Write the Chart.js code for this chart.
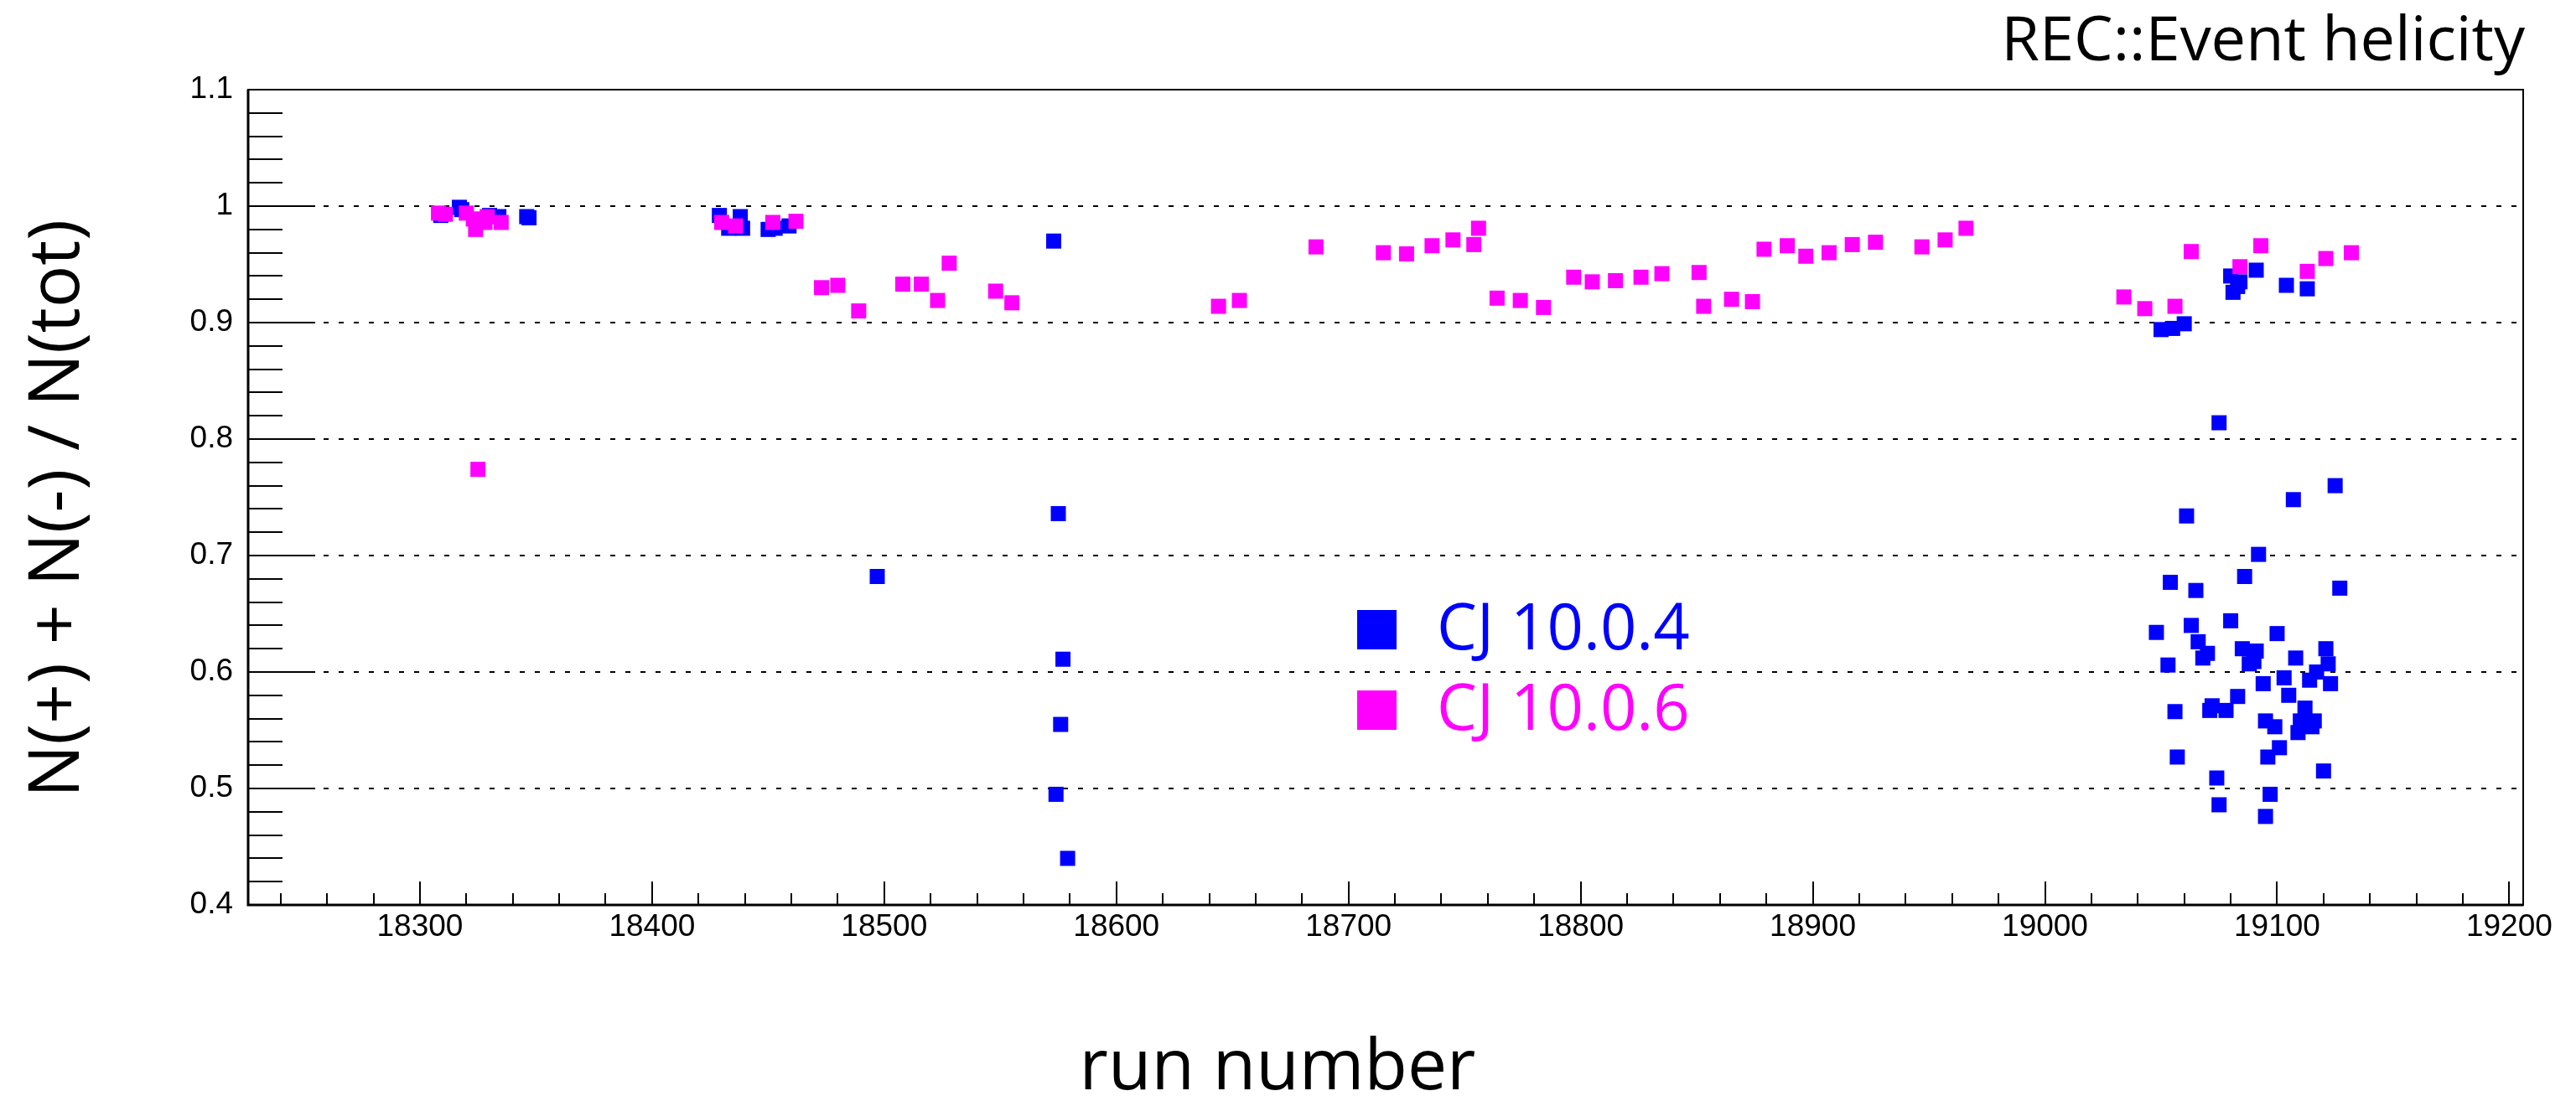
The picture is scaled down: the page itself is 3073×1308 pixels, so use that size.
<!DOCTYPE html>
<html>
<head>
<meta charset="utf-8">
<script src="https://cdn.jsdelivr.net/npm/chart.js@4/dist/chart.umd.min.js"></script>
<style>
  html, body { margin: 0; padding: 0; background: #ffffff; }
  #wrap { width: 3073px; height: 1308px; }
  canvas { display: block; }
</style>
</head>
<body>
<div id="wrap"><canvas id="c" width="3073" height="1308"></canvas></div>
<script>
// Helicity fraction per run: N(+) + N(-) / N(tot), two cooking versions.
const runs104 = [
  18309, 18317, 18318, 18330, 18334, 18346, 18347,
  18429, 18433, 18438, 18439, 18450, 18453, 18459,
  18497, 18573, 18575, 18577, 18576, 18574, 18579,
  19050, 19055, 19060, 19075, 19080, 19081, 19083, 19084, 19091, 19104, 19113,
  19125, 19107, 19061, 19092, 19086, 19054, 19065, 19127,
  19080, 19063, 19048, 19100, 19066, 19070, 19068, 19085, 19091, 19088,
  19090, 19108, 19121, 19122, 19053, 19117, 19103, 19094, 19114, 19123,
  19105, 19083, 19112, 19072, 19071, 19078, 19056, 19095, 19099, 19110,
  19116, 19115, 19109, 19101, 19096, 19057, 19120, 19074, 19097, 19075, 19095
];
const vals104 = [
  0.992, 0.999, 0.997, 0.992, 0.991, 0.991, 0.990,
  0.992, 0.981, 0.991, 0.981, 0.980, 0.981, 0.983,
  0.682, 0.970, 0.736, 0.611, 0.555, 0.495, 0.440,
  0.894, 0.895, 0.899, 0.814, 0.940, 0.926, 0.931, 0.935, 0.945, 0.932, 0.929,
  0.760, 0.748, 0.734, 0.701, 0.682, 0.677, 0.670, 0.672,
  0.644, 0.640, 0.634, 0.633, 0.626, 0.616, 0.612, 0.620, 0.618, 0.607,
  0.609, 0.612, 0.620, 0.607, 0.606, 0.600, 0.595, 0.590, 0.593, 0.590,
  0.580, 0.579, 0.569, 0.571, 0.567, 0.567, 0.566, 0.558, 0.553, 0.558,
  0.558, 0.553, 0.548, 0.535, 0.527, 0.527, 0.515, 0.509, 0.495, 0.486, 0.476
];
const runs106 = [
  18308, 18311, 18320, 18323, 18324, 18325, 18328, 18329, 18335,
  18430, 18436, 18452, 18462,
  18473, 18480, 18489, 18508, 18516, 18523, 18528, 18548, 18555,
  18644, 18653, 18686, 18715, 18725, 18736, 18745, 18754, 18756,
  18764, 18774, 18784, 18797, 18805, 18815, 18826, 18835, 18851, 18853,
  18865, 18874, 18879, 18889, 18897, 18907, 18917, 18927, 18947, 18957, 18966,
  19034, 19043, 19056, 19063, 19084, 19093, 19113, 19121, 19132
];
const vals106 = [
  0.994, 0.993, 0.994, 0.989, 0.980, 0.774, 0.986, 0.991, 0.986,
  0.986, 0.983, 0.986, 0.987,
  0.930, 0.932, 0.910, 0.933, 0.933, 0.919, 0.951, 0.927, 0.917,
  0.914, 0.919, 0.965, 0.960, 0.959, 0.966, 0.971, 0.967, 0.981,
  0.921, 0.919, 0.913, 0.939, 0.935, 0.936, 0.939, 0.942, 0.943, 0.914,
  0.920, 0.918, 0.963, 0.966, 0.957, 0.960, 0.967, 0.969, 0.965, 0.971, 0.981,
  0.922, 0.912, 0.914, 0.961, 0.948, 0.966, 0.944, 0.955, 0.960
];
const seriesNames = ['CJ 10.0.4', 'CJ 10.0.6'];
const seriesColors = ['#0000ff', '#ff00ff'];
const xTickValues = [18300, 18400, 18500, 18600, 18700, 18800, 18900, 19000, 19100, 19200];
const yTickValues = [0.4, 0.5, 0.6, 0.7, 0.8, 0.9, 1.0, 1.1];
const yTickLabels = ['0.4', '0.5', '0.6', '0.7', '0.8', '0.9', '1', '1.1'];
const titleText = 'REC::Event helicity';
const xTitle = 'run number';
const yTitle = 'N(+) + N(-) / N(tot)';

const toPoints = (xs, ys) => xs.map((x, i) => ({ x: x, y: ys[i] }));

const TICK_FONT = { family: '"Liberation Sans", Arial, sans-serif', size: 37 };
const TEXT_FONT = '"Open Sans", "Noto Sans", sans-serif';

// Frame, inward tick marks, titles and legend.
const decorations = {
  id: 'decorations',
  afterDatasetsDraw(chart) {
    const { ctx, chartArea: a, scales } = chart;
    const xs = scales.x, ys = scales.y;
    ctx.save();
    ctx.strokeStyle = '#000';
    ctx.lineCap = 'butt';

    // y ticks: majors every 0.1, minors every 0.02
    ctx.lineWidth = 2;
    ctx.beginPath();
    for (let k = 20; k <= 55; k++) {
      const v = k / 50;
      const py = Math.round(ys.getPixelForValue(v));
      const len = (k % 5 === 0) ? 80 : 41;
      ctx.moveTo(a.left, py);
      ctx.lineTo(a.left + len, py);
    }
    ctx.stroke();

    // x ticks: majors every 100, minors every 20
    ctx.beginPath();
    for (let r = 18240; r <= 19200; r += 20) {
      const px = Math.round(xs.getPixelForValue(r));
      const len = (r % 100 === 0) ? 28 : 14;
      ctx.moveTo(px, a.bottom);
      ctx.lineTo(px, a.bottom - len);
    }
    ctx.stroke();

    // frame
    ctx.lineWidth = 2;
    ctx.strokeRect(a.left, a.top, a.right - a.left, a.bottom - a.top);
    ctx.lineWidth = 3;
    ctx.beginPath();
    ctx.moveTo(a.left, a.top); ctx.lineTo(a.left, a.bottom); ctx.lineTo(a.right, a.bottom);
    ctx.stroke();

    // titles
    ctx.fillStyle = '#000';
    ctx.textBaseline = 'alphabetic';
    ctx.font = '74px ' + TEXT_FONT;
    ctx.textAlign = 'right';
    ctx.fillText(titleText, 3012, 72);

    ctx.font = '84px ' + TEXT_FONT;
    ctx.textAlign = 'center';
    ctx.fillText(xTitle, 1524, 1300);

    ctx.save();
    ctx.translate(94, 607);
    ctx.rotate(-Math.PI / 2);
    ctx.fillText(yTitle, 0, 0);
    ctx.restore();

    // legend
    ctx.font = '76px ' + TEXT_FONT;
    ctx.textAlign = 'left';
    ctx.textBaseline = 'middle';
    const legendRows = [751, 847];
    chart.data.datasets.forEach((ds, i) => {
      const cy = legendRows[i];
      ctx.fillStyle = ds.backgroundColor;
      ctx.fillRect(1619, cy - 23, 47, 47);
      ctx.fillText(ds.label, 1714, cy + 2);
    });
    ctx.restore();
  }
};

new Chart(document.getElementById('c'), {
  type: 'scatter',
  data: {
    datasets: [
      {
        label: seriesNames[0],
        data: toPoints(runs104, vals104),
        backgroundColor: seriesColors[0],
        borderColor: seriesColors[0],
        borderWidth: 0,
        pointStyle: 'rect',
        pointRadius: 12.73,
        pointHoverRadius: 12.73,
        order: 2
      },
      {
        label: seriesNames[1],
        data: toPoints(runs106, vals106),
        backgroundColor: seriesColors[1],
        borderColor: seriesColors[1],
        borderWidth: 0,
        pointStyle: 'rect',
        pointRadius: 12.73,
        pointHoverRadius: 12.73,
        order: 1
      }
    ]
  },
  options: {
    responsive: false,
    animation: false,
    devicePixelRatio: 1,
    events: [],
    layout: { padding: { top: 107, right: 63, bottom: 0, left: 0 } },
    plugins: { legend: { display: false }, tooltip: { enabled: false }, title: { display: false } },
    scales: {
      x: {
        type: 'linear',
        min: 18226,
        max: 19206,
        afterFit(s) { s.height = 228; },
        afterBuildTicks(s) { s.ticks = xTickValues.map(v => ({ value: v })); },
        ticks: {
          font: TICK_FONT, color: '#000', padding: 5,
          autoSkip: false, maxRotation: 0, minRotation: 0,
          callback: v => String(v)
        },
        grid: { display: false, drawTicks: false },
        border: { display: false }
      },
      y: {
        type: 'linear',
        min: 0.4,
        max: 1.1,
        afterFit(s) { s.width = 296; },
        afterBuildTicks(s) { s.ticks = yTickValues.map(v => ({ value: v })); },
        ticks: {
          font: TICK_FONT, color: '#000', padding: 18,
          callback: (v, i) => yTickLabels[i]
        },
        grid: {
          drawTicks: false,
          lineWidth: 2,
          color: c => (c.tick && c.tick.value > 0.45 && c.tick.value < 1.05) ? '#000000' : 'rgba(0,0,0,0)'
        },
        border: { display: false, dash: [6, 12] }
      }
    }
  },
  plugins: [decorations]
});
</script>
</body>
</html>
